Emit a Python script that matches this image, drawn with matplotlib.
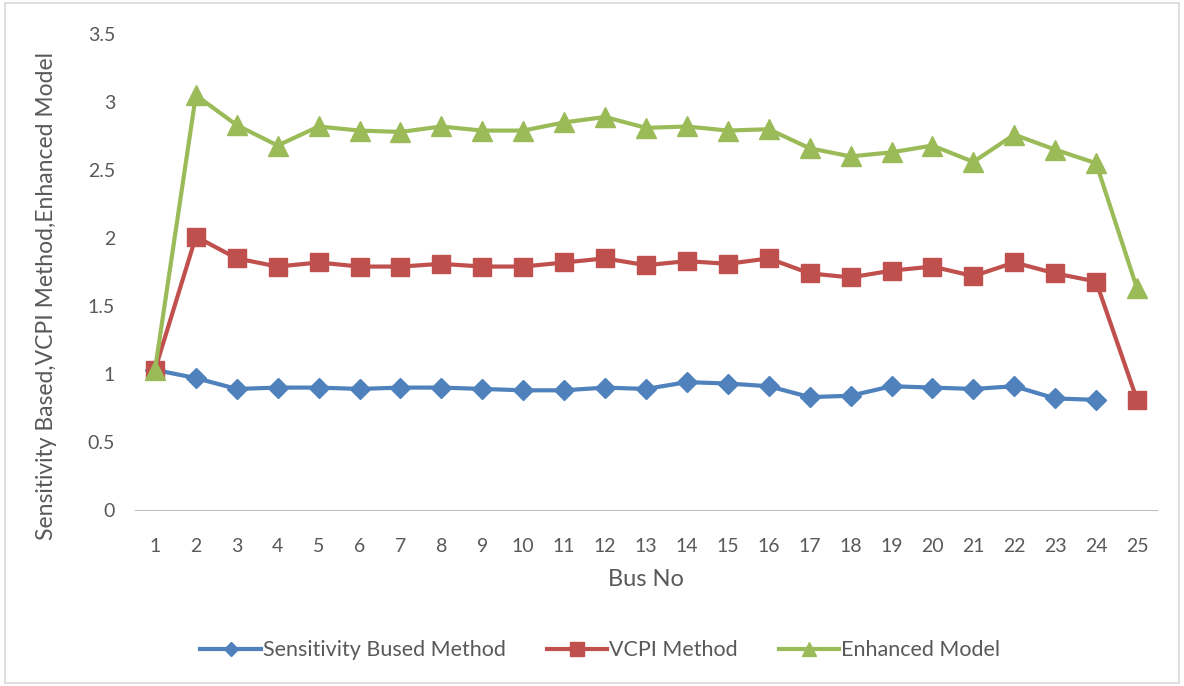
import numpy as np
import matplotlib
matplotlib.use("Agg")
import matplotlib.pyplot as plt
from matplotlib.patches import Rectangle

buses = list(range(1, 26))
sensitivity = [1.03, 0.97, 0.89, 0.90, 0.90, 0.89, 0.90, 0.90, 0.89, 0.88, 0.88, 0.90, 0.89,
               0.94, 0.93, 0.91, 0.83, 0.84, 0.91, 0.90, 0.89, 0.91, 0.82, 0.81, np.nan]
vcpi = [1.03, 2.01, 1.85, 1.79, 1.82, 1.79, 1.79, 1.81, 1.79, 1.79, 1.82, 1.85, 1.80,
        1.83, 1.81, 1.85, 1.74, 1.71, 1.76, 1.79, 1.72, 1.82, 1.74, 1.68, 0.81]
enhanced = [1.03, 3.05, 2.83, 2.68, 2.82, 2.79, 2.78, 2.82, 2.79, 2.79, 2.85, 2.89, 2.81,
            2.82, 2.79, 2.80, 2.66, 2.60, 2.63, 2.68, 2.56, 2.76, 2.65, 2.55, 1.63]

plt.rcParams['font.family'] = ['Lato', 'DejaVu Sans']
txt = "#595959"

fig = plt.figure(figsize=(11.84, 6.86), dpi=100)
ax = fig.add_axes([0.1136, 0.2566, 0.864, 0.6938])

ax.plot(buses, sensitivity, color="#4F81BD", lw=3, marker="D", ms=10, label="Sensitivity Bused Method")
ax.plot(buses, vcpi, color="#C0504D", lw=3, marker="s", ms=13, label="VCPI Method")
ax.plot(buses, enhanced, color="#9BBB59", lw=3, marker="^", ms=14, label="Enhanced Model")

ax.set_xlim(0.5, 25.5)
ax.set_ylim(0, 3.5)
ax.set_xticks(buses)
ax.set_yticks(np.arange(0, 3.51, 0.5))
ax.set_yticklabels(["0", "0.5", "1", "1.5", "2", "2.5", "3", "3.5"])
for s in ["top", "right", "left"]:
    ax.spines[s].set_visible(False)
ax.spines["bottom"].set_color("#BFBFBF")
ax.tick_params(axis="both", length=0, labelsize=14, colors=txt)
ax.tick_params(axis="x", pad=20)
ax.tick_params(axis="y", pad=14)

ax.set_xlabel("Bus No", fontsize=17, color=txt, labelpad=10)
ax.set_ylabel("Sensitivity Based,VCPI Method,Enhanced Model", fontsize=16.5, color=txt)
ax.yaxis.set_label_coords(-0.076, 0.45)

leg = fig.legend(loc="center", bbox_to_anchor=(0.507, 0.052), ncol=3, frameon=False,
                 fontsize=15.5, handlelength=2.8, columnspacing=1.9, handletextpad=0.1,
                 markerscale=0.75, labelcolor=txt)

fig.add_artist(Rectangle((0.004, 0.004), 0.992, 0.992, transform=fig.transFigure,
                         fill=False, edgecolor="#D9D9D9", lw=1.2))

fig.savefig("out.png", dpi=100)
